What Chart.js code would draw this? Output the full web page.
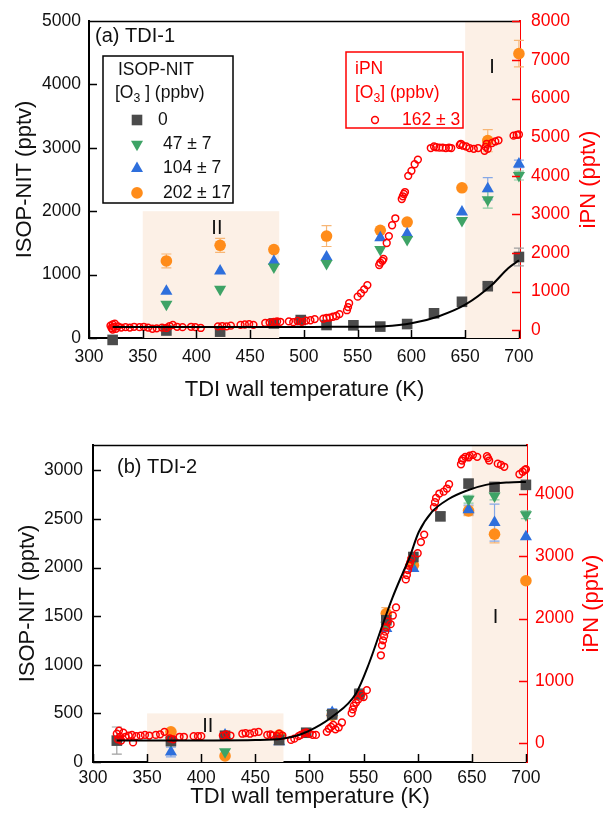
<!DOCTYPE html>
<html>
<head>
<meta charset="utf-8">
<script src="https://cdn.jsdelivr.net/npm/chart.js@4.4.1/dist/chart.umd.min.js"></script>
<style>
  html, body { margin: 0; padding: 0; background: #fff; }
  canvas { display: block; }
</style>
</head>
<body>
<canvas id="chartA" width="603" height="410"></canvas>
<canvas id="chartB" width="603" height="410"></canvas>
<script>
const FONT = '"Liberation Sans", Arial, Helvetica, sans-serif';
const RED = '#ff0000';
const SHADE = '#fcf0e6';
const C_SQ = '#4b4b4b', C_GR = '#3ea366', C_BL = '#2e6fdc', C_OR = '#ff8c1a';

// temperatures of the ISOP-NIT measurements (K)
const temps = [322, 372, 422, 472, 497, 521, 546, 571, 596, 621, 647, 671, 700];
const xTicks = [300, 350, 400, 450, 500, 550, 600, 650, 700];

// ---- panel (a) TDI-1 ----
const a_nit0   = [-30, 118, 100, 230, 283, 205, 200, 180, 220, 390, 571, 817, 1278];
const a_nit47  = [null, 534, 770, 1121, null, 1174, null, 1394, 1552, null, 1855, 2180, 2562];
const a_nit104 = [null, 739, 1058, 1210, null, 1278, null, 1583, 1646, null, 1986, 2353, 2746];
const a_nit202 = [null, 1215, 1462, 1394, null, 1608, null, 1698, 1829, null, 2369, 3113, 4485];
const a_err0   = [0, 0, 0, 0, 0, 0, 0, 0, 0, 0, 0, 30, 140];
const a_err47  = [0, 0, 0, 0, 0, 0, 0, 0, 0, 0, 0, 130, 70];
const a_err104 = [0, 0, 0, 0, 0, 0, 0, 0, 0, 0, 0, 175, 60];
const a_err202 = [0, 110, 110, 0, 0, 165, 0, 0, 0, 0, 0, 175, 210];
const a_fitT = [322, 350, 400, 450, 500, 525, 550, 575, 600, 625, 650, 675, 690, 700];
const a_fitV = [172, 172, 173, 174, 175, 176, 178, 186, 232, 340, 525, 840, 1100, 1225];
const a_ipnT = [320, 321, 322, 322, 323, 324, 325, 327, 330, 334, 338, 342, 347, 351, 355, 359, 363, 368, 372, 375,
  378, 382, 387, 395, 399, 404, 420, 424, 428, 432, 441, 445, 449, 453, 464, 468, 472, 475, 478, 486,
  490, 494, 498, 502, 506, 510, 518, 521, 524, 527, 530, 533, 540, 541, 542, 550, 553, 556, 559, 570,
  571, 573, 574, 577, 579, 582, 585, 591, 592, 593, 594, 597, 600, 603, 606, 618, 621, 623, 626, 629,
  632, 635, 637, 645, 646, 648, 651, 654, 658, 662, 668, 669, 670, 671, 675, 678, 681, 695, 698, 700];
const a_ipnV = [120, 60, 150, 20, 90, 170, 40, 100, 70, 80, 70, 90, 80, 90, 70, 40, 50, 70, 60, 110,
  140, 90, 80, 90, 80, 60, 100, 110, 100, 120, 140, 150, 160, 140, 190, 200, 220, 230, 220, 230,
  210, 240, 220, 250, 260, 290, 300, 320, 330, 350, 370, 420, 520, 600, 700, 870, 960, 1060, 1170, 1690,
  1750, 1800, 1850, 2260, 2440, 2720, 2900, 3400, 3470, 3530, 3580, 4000, 4130, 4300, 4420, 4720, 4760, 4740, 4730, 4730,
  4720, 4730, 4720, 4800, 4830, 4780, 4760, 4720, 4700, 4720, 4650, 4750, 4830, 4700, 4850, 4890, 4920, 5040, 5060, 5070];
const a_leftTicks = [0, 1000, 2000, 3000, 4000, 5000];
const a_rightTicks = [0, 1000, 2000, 3000, 4000, 5000, 6000, 7000, 8000];

// ---- panel (b) TDI-2 ----
const b_nit0   = [220, 215, 270, 226, 301, 490, 695, 1458, 2108, 2526, 2863, 2829, 2850];
const b_nit47  = [null, 219, 106, 246, null, 500, null, 1407, 2074, null, 2703, 2736, 2542];
const b_nit104 = [null, 103, 277, 208, null, 510, null, 1373, 1989, null, 2593, 2462, 2316];
const b_nit202 = [null, 311, 62, 277, null, 480, null, 1527, 2023, null, 2583, 2343, 1864];
const b_err0   = [140, 0, 0, 0, 0, 0, 60, 0, 0, 40, 40, 40, 40];
const b_err47  = [0, 0, 0, 0, 0, 0, 0, 0, 0, 0, 40, 40, 40];
const b_err104 = [0, 50, 0, 0, 0, 40, 0, 0, 0, 0, 50, 190, 0];
const b_err202 = [0, 0, 0, 0, 0, 0, 0, 60, 0, 0, 50, 90, 0];
const b_fitT = [322, 350, 400, 450, 475, 491, 505, 521, 543, 555, 568, 577, 586, 592, 601, 613, 629, 645, 663, 684, 700];
const b_fitV = [220, 220, 222, 226, 240, 280, 350, 465, 705, 1013, 1424, 1698, 1938, 2090, 2365, 2570, 2707, 2790, 2850, 2875, 2880];
const b_ipnT = [322, 323, 324, 325, 326, 328, 330, 333, 336, 337, 340, 344, 348, 352, 358, 362, 366, 371, 374, 380,
  384, 393, 397, 400, 420, 423, 427, 438, 441, 445, 449, 453, 461, 464, 466, 470, 472, 475, 483, 486,
  490, 492, 495, 497, 500, 503, 506, 516, 518, 520, 522, 524, 527, 530, 539, 540, 541, 543, 545, 548,
  550, 553, 566, 567, 568, 569, 570, 571, 572, 575, 577, 580, 589, 590, 591, 592, 593, 594, 600, 603,
  606, 615, 616, 617, 620, 624, 627, 629, 640, 641, 642, 644, 647, 648, 651, 655, 664, 665, 666, 674,
  677, 680, 694, 697, 699, 700];
const b_ipnV = [150, 60, 200, 100, 40, 165, 100, 120, 130, 10, 110, 120, 130, 120, 130, 140, 180, 75, 60, 100,
  100, 110, 110, 110, 120, 140, 120, 150, 160, 150, 170, 180, 130, 140, 120, 110, 150, 120, 50, 70,
  110, 130, 160, 170, 150, 130, 130, 180, 230, 260, 290, 220, 250, 330, 480, 540, 600, 650, 700, 780,
  740, 850, 1410, 1570, 1650, 1720, 1790, 1860, 1950, 1910, 2050, 2180, 2630, 2700, 2780, 2850, 2900, 2960, 3050, 3230,
  3350, 3790, 3870, 3940, 4010, 4040, 4090, 4160, 4480, 4540, 4570, 4600, 4590, 4620, 4630, 4600, 4610, 4580, 4540, 4490,
  4470, 4440, 4320, 4360, 4390, 4400];
const b_leftTicks = [0, 500, 1000, 1500, 2000, 2500, 3000];
const b_rightTicks = [0, 1000, 2000, 3000, 4000];

function drawMarker(ctx, kind, x, y, color) {
  ctx.save();
  ctx.fillStyle = color;
  ctx.strokeStyle = color;
  ctx.beginPath();
  if (kind === 'square') {
    ctx.rect(x - 5.3, y - 5.3, 10.6, 10.6); ctx.fill();
  } else if (kind === 'down') {
    ctx.moveTo(x - 6, y - 3.5); ctx.lineTo(x + 6, y - 3.5); ctx.lineTo(x, y + 7); ctx.closePath(); ctx.fill();
  } else if (kind === 'up') {
    ctx.moveTo(x - 6, y + 3.5); ctx.lineTo(x + 6, y + 3.5); ctx.lineTo(x, y - 7); ctx.closePath(); ctx.fill();
  } else if (kind === 'dot') {
    ctx.arc(x, y, 5.8, 0, Math.PI * 2); ctx.fill();
  } else if (kind === 'ring') {
    ctx.lineWidth = 1.5; ctx.arc(x, y, 3.4, 0, Math.PI * 2); ctx.stroke();
  }
  ctx.restore();
}

// text with a subscript part: parts = [[text, isSub], ...]
function drawParts(ctx, parts, x, y, size) {
  let cx = x;
  parts.forEach(([t, sub]) => {
    ctx.font = (sub ? size * 0.7 : size) + 'px ' + FONT;
    ctx.fillText(t, cx, sub ? y + 6 : y);
    cx += ctx.measureText(t).width;
  });
}

const decor = {
  id: 'decor',
  beforeDatasetsDraw(chart, args, o) {
    const {ctx, chartArea: ca, scales} = chart;
    ctx.save();
    o.regions.forEach(r => {
      const x1 = scales.x.getPixelForValue(r.from);
      const x2 = Math.min(scales.x.getPixelForValue(r.to), ca.right);
      const yt = r.top == null ? ca.top : scales.y.getPixelForValue(r.top);
      ctx.fillStyle = SHADE;
      ctx.fillRect(x1, yt, x2 - x1, ca.bottom - yt);
    });
    ctx.fillStyle = '#111';
    ctx.font = '20px ' + FONT;
    ctx.textAlign = 'center';
    ctx.textBaseline = 'middle';
    o.regionLabels.forEach(l => {
      ctx.fillText(l.text, scales.x.getPixelForValue(l.x), scales.y.getPixelForValue(l.y));
    });
    // error bars
    chart.data.datasets.forEach((ds, i) => {
      if (!ds.errColor) return;
      ctx.strokeStyle = ds.errColor;
      ctx.lineWidth = 1.2;
      ds.data.forEach(p => {
        if (!p.e) return;
        const px = scales.x.getPixelForValue(p.x);
        const y1 = scales.y.getPixelForValue(p.y - p.e);
        const y2 = scales.y.getPixelForValue(p.y + p.e);
        ctx.beginPath();
        ctx.moveTo(px, y1); ctx.lineTo(px, y2);
        ctx.moveTo(px - 5, y1); ctx.lineTo(px + 5, y1);
        ctx.moveTo(px - 5, y2); ctx.lineTo(px + 5, y2);
        ctx.stroke();
      });
    });
    ctx.restore();
  },
  afterDraw(chart, args, o) {
    const {ctx, chartArea: ca, scales} = chart;
    ctx.save();
    // inward tick marks
    ctx.lineWidth = 1.5;
    ctx.strokeStyle = '#000';
    ctx.beginPath();
    scales.x.ticks.forEach(t => {
      const px = Math.round(scales.x.getPixelForValue(t.value)) + 0.5;
      ctx.moveTo(px, ca.bottom); ctx.lineTo(px, ca.bottom - 8);
    });
    scales.y.ticks.forEach(t => {
      const py = Math.round(scales.y.getPixelForValue(t.value)) + 0.5;
      ctx.moveTo(ca.left, py); ctx.lineTo(ca.left + 8, py);
    });
    ctx.moveTo(ca.left, ca.top + 0.5); ctx.lineTo(ca.right, ca.top + 0.5);
    ctx.stroke();
    ctx.strokeStyle = RED;
    ctx.beginPath();
    scales.y2.ticks.forEach(t => {
      const py = Math.round(scales.y2.getPixelForValue(t.value)) + 0.5;
      ctx.moveTo(ca.right, py); ctx.lineTo(ca.right - 8, py);
    });
    ctx.stroke();

    // panel tag
    ctx.fillStyle = '#111';
    ctx.textAlign = 'left';
    ctx.textBaseline = 'middle';
    ctx.font = '20px ' + FONT;
    ctx.fillText(o.tag, ca.left + o.tagDx, ca.top + o.tagDy);

    // right axis title
    ctx.save();
    ctx.translate(o.rightTitleX, (ca.top + ca.bottom) / 2);
    ctx.rotate(-Math.PI / 2);
    ctx.textAlign = 'center';
    ctx.fillStyle = RED;
    ctx.font = '22px ' + FONT;
    ctx.fillText('iPN (pptv)', 0, 0);
    ctx.restore();

    if (o.legends) {
      const L = ca.left, T = ca.top;
      const fs = 17.5;
      ctx.font = fs + 'px ' + FONT;
      // ISOP-NIT legend box
      ctx.strokeStyle = '#000';
      ctx.lineWidth = 1.5;
      ctx.strokeRect(L + 14, T + 35, 130, 147);
      ctx.fillStyle = '#111';
      ctx.fillText('ISOP-NIT', L + 29, T + 49);
      drawParts(ctx, [['[O', 0], ['3', 1], [' ] (ppbv)', 0]], L + 26, T + 72, fs);
      ctx.font = fs + 'px ' + FONT;
      const rows = [['square', C_SQ, '0', 69], ['down', C_GR, '47 \u00b1 7', 74],
                    ['up', C_BL, '104 \u00b1 7', 74], ['dot', C_OR, '202 \u00b1 17', 74]];
      rows.forEach((r, i) => {
        const y = T + 99 + i * 24.3;
        drawMarker(ctx, r[0], L + 48, y, r[1]);
        ctx.fillStyle = '#111';
        ctx.fillText(r[2], L + r[3], y);
      });
      // iPN legend box
      ctx.strokeStyle = RED;
      ctx.strokeRect(L + 257, T + 31, 117, 76);
      ctx.fillStyle = RED;
      ctx.fillText('iPN', L + 266, T + 48);
      drawParts(ctx, [['[O', 0], ['3', 1], ['] (ppbv)', 0]], L + 266, T + 72, fs);
      ctx.font = fs + 'px ' + FONT;
      drawMarker(ctx, 'ring', L + 286, T + 99, RED);
      ctx.fillStyle = RED;
      ctx.fillText('162 \u00b1 3', L + 313, T + 99);
    }
    ctx.restore();
  }
};

function pts(vals, errs) {
  return temps.map((t, i) => vals[i] == null ? null : {x: t, y: vals[i], e: errs[i]}).filter(Boolean);
}
function zip(xs, ys) {
  return xs.map((x, i) => ({x: x, y: ys[i]}));
}
const plain = v => String(v);

function makeChart(id, p) {
  const tickFont = {family: FONT, size: 17.5};
  const markers = [
    {data: pts(p.n202, p.e202), pointStyle: 'circle', pointRadius: 5.8, color: C_OR, err: '#f7b676', order: 5},
    {data: pts(p.n104, p.e104), pointStyle: 'triangle', pointRadius: 7, color: C_BL, err: '#86a8e6', order: 4},
    {data: pts(p.n47, p.e47), pointStyle: 'triangle', pointRadius: 7, rot: 180, color: C_GR, err: '#8ccba4', order: 3},
    {data: pts(p.n0, p.e0), pointStyle: 'rect', pointRadius: 7.5, color: C_SQ, err: '#a0a0a0', order: 2}
  ].map(m => ({
    type: 'scatter', data: m.data, yAxisID: 'y', order: m.order,
    pointStyle: m.pointStyle, pointRadius: m.pointRadius, pointRotation: m.rot || 0,
    backgroundColor: m.color, borderColor: m.color, pointBorderWidth: 0, borderWidth: 0,
    errColor: m.err, clip: false
  }));
  const datasets = markers.concat([
    {type: 'scatter', data: zip(p.ipnT, p.ipnV), yAxisID: 'y2', order: 1,
     pointStyle: 'circle', pointRadius: 3.4, pointBorderWidth: 1.5, borderWidth: 1.5,
     borderColor: RED, pointBorderColor: RED, backgroundColor: 'rgba(255,255,255,0)',
     pointBackgroundColor: 'rgba(255,255,255,0)', clip: false},
    {type: 'scatter', data: zip(p.fitT, p.fitV), yAxisID: 'y', order: 0, showLine: true,
     pointRadius: 0, borderColor: '#000', borderWidth: 2, cubicInterpolationMode: 'monotone', fill: false}
  ]);

  return new Chart(document.getElementById(id), {
    type: 'scatter',
    data: {datasets: datasets},
    plugins: [decor],
    options: {
      responsive: false,
      animation: false,
      events: [],
      layout: {padding: {left: p.padLeft, top: p.padTop, right: 0, bottom: 0}},
      plugins: {
        legend: {display: false},
        tooltip: {enabled: false},
        decor: p.decor
      },
      scales: {
        x: {
          type: 'linear', position: 'bottom', min: 300, max: 701,
          grid: {display: false, drawTicks: false},
          border: {display: true, color: '#000', width: 2},
          ticks: {font: tickFont, color: '#111', padding: p.xTickPad, maxRotation: 0, autoSkip: false, callback: plain},
          title: {display: true, text: 'TDI wall temperature (K)', color: '#111',
                  font: {family: FONT, size: 22}, padding: {top: 0, bottom: p.xTitlePad}},
          afterBuildTicks: s => { s.ticks = xTicks.map(v => ({value: v})); },
          afterFit: s => { s.height = p.xHeight; s.paddingLeft = 0; s.paddingRight = 0; }
        },
        y: {
          type: 'linear', position: 'left', min: p.yMin, max: p.yMax,
          grid: {display: false, drawTicks: false},
          border: {display: true, color: '#000', width: 2},
          ticks: {font: tickFont, color: '#111', padding: p.yTickPad, callback: plain},
          title: {display: true, text: 'ISOP-NIT (pptv)', color: '#111',
                  font: {family: FONT, size: 22}, padding: 0},
          afterBuildTicks: s => { s.ticks = p.leftTicks.map(v => ({value: v})); },
          afterFit: s => { s.width = p.yWidth; s.paddingTop = 0; s.paddingBottom = 0; }
        },
        y2: {
          type: 'linear', position: 'right', min: p.y2Min, max: p.y2Max,
          grid: {display: false, drawTicks: false},
          border: {display: true, color: RED, width: 2},
          ticks: {font: tickFont, color: RED, padding: p.y2TickPad, callback: plain},
          afterBuildTicks: s => { s.ticks = p.rightTicks.map(v => ({value: v})); },
          afterFit: s => { s.width = p.y2Width; s.paddingTop = 0; s.paddingBottom = 0; }
        }
      }
    }
  });
}

makeChart('chartA', {
  n0: a_nit0, n47: a_nit47, n104: a_nit104, n202: a_nit202,
  e0: a_err0, e47: a_err47, e104: a_err104, e202: a_err202,
  fitT: a_fitT, fitV: a_fitV, ipnT: a_ipnT, ipnV: a_ipnV,
  leftTicks: a_leftTicks, rightTicks: a_rightTicks,
  yMin: 0, yMax: 5000, y2Min: -200, y2Max: 8010,
  padLeft: 12, padTop: 21, yWidth: 77, y2Width: 83, xHeight: 72,
  xTickPad: 9, xTitlePad: 7, yTickPad: 8, y2TickPad: 11,
  decor: {
    regions: [{from: 350, to: 477, top: 2000}, {from: 650, to: 701, top: null}],
    regionLabels: [{text: 'II', x: 419, y: 1735}, {text: 'I', x: 675, y: 4270}],
    tag: '(a) TDI-1', tagDx: 6, tagDy: 15, rightTitleX: 589, legends: true
  }
});

makeChart('chartB', {
  n0: b_nit0, n47: b_nit47, n104: b_nit104, n202: b_nit202,
  e0: b_err0, e47: b_err47, e104: b_err104, e202: b_err202,
  fitT: b_fitT, fitV: b_fitV, ipnT: b_ipnT, ipnV: b_ipnV,
  leftTicks: b_leftTicks, rightTicks: b_rightTicks,
  yMin: 0, yMax: 3260, y2Min: -305, y2Max: 4790,
  padLeft: 15, padTop: 35, yWidth: 78, y2Width: 76, xHeight: 58,
  xTickPad: 6, xTitlePad: 10, yTickPad: 10, y2TickPad: 8,
  decor: {
    regions: [{from: 350, to: 476, top: 500}, {from: 650, to: 701, top: null}],
    regionLabels: [{text: 'II', x: 406, y: 370}, {text: 'I', x: 672, y: 1490}],
    tag: '(b) TDI-2', tagDx: 24, tagDy: 22, rightTitleX: 592, legends: false
  }
});
</script>
</body>
</html>
